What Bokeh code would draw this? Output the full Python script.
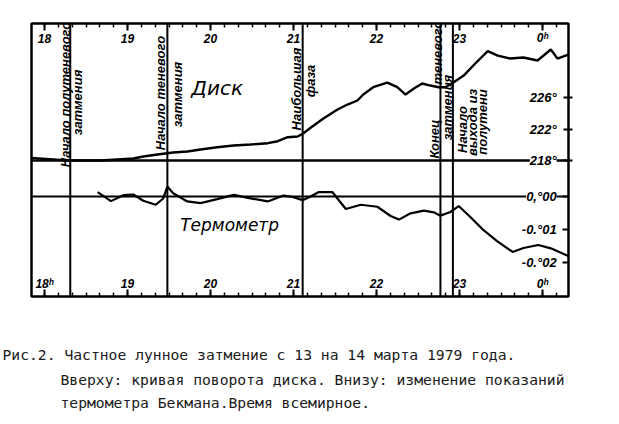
import math
from bokeh.plotting import figure
from bokeh.models import Range1d, LinearAxis, FixedTicker, Span, Grid, Title
from bokeh.core.properties import value
from bokeh.embed import file_html
from bokeh.resources import INLINE

# ---- data (UT hours; 24 = 0h of 14 March) ----
disk_t = [17.84, 18.28, 18.68, 19.07, 19.19, 19.36, 19.48, 19.55, 19.72, 19.88,
          20.08, 20.28, 20.48, 20.69, 20.81, 20.93, 21.05, 21.12, 21.21, 21.36,
          21.53, 21.65, 21.77, 21.84, 21.96, 22.13, 22.25, 22.35, 22.45, 22.55,
          22.65, 22.75, 22.83, 22.93, 23.05, 23.19, 23.34, 23.46, 23.61, 23.77,
          23.94, 24.10, 24.18, 24.31]
disk_deg = [218.34, 218.00, 218.00, 218.25, 218.51, 218.76, 218.93, 219.02, 219.14, 219.40,
            219.69, 219.90, 220.03, 220.20, 220.45, 220.96, 221.05, 221.47, 222.19, 223.33,
            224.48, 225.11, 225.62, 226.38, 227.31, 227.90, 227.31, 226.38, 227.14, 227.78,
            227.52, 227.31, 227.31, 227.94, 228.79, 230.32, 231.88, 231.33, 230.95, 231.08,
            230.70, 232.10, 230.95, 231.46]

therm_t = [18.64, 18.80, 18.95, 19.07, 19.19, 19.34, 19.43, 19.48, 19.55, 19.72,
           19.88, 20.08, 20.28, 20.45, 20.69, 20.88, 21.00, 21.11, 21.20, 21.30,
           21.47, 21.63, 21.81, 22.01, 22.17, 22.27, 22.41, 22.57, 22.69, 22.77,
           22.89, 22.99, 23.13, 23.29, 23.46, 23.64, 23.77, 23.95, 24.10, 24.31]
therm_val = [0.0013, -0.0014, 0.0004, 0.0006, -0.0013, -0.0025, -0.0006, 0.0030, 0.0010, -0.0015,
             -0.0020, -0.0008, 0.0005, -0.0004, -0.0015, 0.0003, -0.0002, -0.0011, -0.0001, 0.0013,
             0.0013, -0.0038, -0.0025, -0.0031, -0.0059, -0.0070, -0.0051, -0.0043, -0.0048, -0.0058,
             -0.0047, -0.0029, -0.0062, -0.0102, -0.0137, -0.0168, -0.0156, -0.0147, -0.0157, -0.0180]

hour_ticks = [18, 19, 20, 21, 22, 23, 24]
top_labels = ["18", "19", "20", "21", "22", "23", "0ʰ"]
bottom_labels = ["18ʰ", "19", "20", "21", "22", "23", "0ʰ"]
deg_ticks = [218, 222, 226]
deg_labels = ["218°", "222°", "226°"]
therm_ticks = [0.0, -0.01, -0.02]
therm_labels = ["0,°00", "-0.°01", "-0.°02"]

contacts = [18.31, 19.48, 21.11, 22.77, 22.92]

ann_text = ["Начало полутеневого", "затмения", "Начало теневого", "затмения",
            "Наибольшая", "фаза", "Конец", "теневого", "затмения",
            "Начало", "выхода из", "полутени"]
ann_t = [18.25, 18.40, 19.40, 19.60, 21.04, 21.21, 22.70, 22.735, 22.855, 23.04, 23.16, 23.28]
ann_deg = [226.38, 225.37, 226.57, 226.38, 227.08, 228.10, 220.73, 231.71, 224.73, 221.94, 222.83, 222.89]

caption = ["Рис.2. Частное лунное затмение с 13 на 14 марта 1979 года.",
           "Вверху: кривая поворота диска. Внизу: изменение показаний",
           "термометра Бекмана.Время всемирное."]

# ---- chart ----
X0, X1 = 17.843, 24.313
D0, D1 = 200.73, 235.40
T0, T1 = -0.0303, 0.05242

p = figure(width=611, height=420, x_range=Range1d(X0, X1), y_range=Range1d(D0, D1),
           output_backend="svg", toolbar_location=None,
           x_axis_location=None, y_axis_location=None,
           min_border_left=31, min_border_right=43, min_border_top=23, min_border_bottom=124)
p.extra_y_ranges = {"therm": Range1d(T0, T1)}
p.center = [c for c in p.center if not isinstance(c, Grid)]
p.outline_line_color = "black"
p.outline_line_width = 2.5
p.background_fill_color = "white"
p.border_fill_color = "white"

minor = [18 + i / 6 for i in range(-1, 38)]


def quiet(ax):
    ax.axis_line_color = None
    ax.major_label_text_font_size = "0px"
    ax.major_label_text_color = None
    ax.major_label_standoff = 0


def hour_axis(loc):
    ax = LinearAxis(ticker=FixedTicker(ticks=hour_ticks, minor_ticks=minor))
    quiet(ax)
    ax.major_tick_in = 7
    ax.major_tick_out = 0
    ax.minor_tick_in = 4
    ax.minor_tick_out = 0
    ax.major_tick_line_width = 2
    ax.minor_tick_line_width = 1.5
    p.add_layout(ax, loc)


hour_axis("above")
hour_axis("below")

# invisible axis used only as vertical space between chart and caption
gap = LinearAxis(ticker=FixedTicker(ticks=hour_ticks, minor_ticks=[]))
quiet(gap)
gap.major_tick_in = 0
gap.major_tick_out = 45
gap.major_tick_line_color = None
gap.minor_tick_line_color = None
p.add_layout(gap, "below")

tax = LinearAxis(y_range_name="therm", ticker=FixedTicker(ticks=therm_ticks, minor_ticks=[]))
quiet(tax)
tax.major_tick_in = 6
tax.major_tick_out = 0
tax.major_tick_line_width = 2
p.add_layout(tax, "right")

dax = LinearAxis(ticker=FixedTicker(ticks=deg_ticks, minor_ticks=[]))
quiet(dax)
dax.major_tick_in = 5
dax.major_tick_out = 4
dax.major_tick_line_width = 2
p.add_layout(dax, "right")

# reference lines
p.add_layout(Span(location=218, dimension="width", line_color="black", line_width=2.4, level="underlay"))
p.add_layout(Span(location=0.0, dimension="width", y_range_name="therm",
                  line_color="black", line_width=2.0, level="underlay"))
for c in contacts:
    p.add_layout(Span(location=c, dimension="height", line_color="black", line_width=2.0, level="underlay"))

# curves
p.line(disk_t, disk_deg, line_color="black", line_width=2.4)
p.line(therm_t, therm_val, y_range_name="therm", line_color="black", line_width=2.2)

# hour labels
p.text(x=hour_ticks, y=[233.5] * 7, text=top_labels, text_align="center", text_baseline="middle",
       text_font=value("Liberation Sans"), text_font_style="bold italic", text_font_size="12px",
       text_color="black")
p.text(x=hour_ticks, y=[-0.0264] * 7, text=bottom_labels, y_range_name="therm",
       text_align="center", text_baseline="middle",
       text_font=value("Liberation Sans"), text_font_style="bold italic", text_font_size="12px",
       text_color="black")

# right labels
p.text(x=[24.17] * 3, y=deg_ticks, text=deg_labels, text_align="right", text_baseline="middle",
       text_font=value("Liberation Sans"), text_font_style="bold italic", text_font_size="13px",
       text_color="black", background_fill_color="white")
p.text(x=[24.17] * 3, y=therm_ticks, text=therm_labels, y_range_name="therm",
       text_align="right", text_baseline="middle",
       text_font=value("Liberation Sans"), text_font_style="bold italic", text_font_size="13px",
       text_color="black", background_fill_color="white")

# vertical annotations
p.text(x=ann_t, y=ann_deg, text=ann_text, angle=math.pi / 2, text_align="center",
       text_baseline="middle", text_font=value("Liberation Sans"),
       text_font_style="bold italic", text_font_size="13px", text_color="black")

# panel titles
p.text(x=[20.08], y=[227.2], text=["Диск"], text_align="center", text_baseline="middle",
       text_font=value("DejaVu Sans"), text_font_style="italic", text_font_size="20px",
       text_color="black")
p.text(x=[20.23], y=[-0.0087], text=["Термометр"], y_range_name="therm",
       text_align="center", text_baseline="middle",
       text_font=value("DejaVu Sans"), text_font_style="italic", text_font_size="17px",
       text_color="black")

# ---- caption: titles stacked below the chart ----
for txt, off, so in zip(caption, [-29, 29, 29], [4, 8, 0]):
    p.add_layout(Title(text=txt, align="left", offset=off, standoff=so,
                       text_font="DejaVu Sans Mono", text_font_size="14.7px",
                       text_font_style="normal", text_color="#1a1a1a"), "below")

open("out.html", "w").write(file_html(p, INLINE))
